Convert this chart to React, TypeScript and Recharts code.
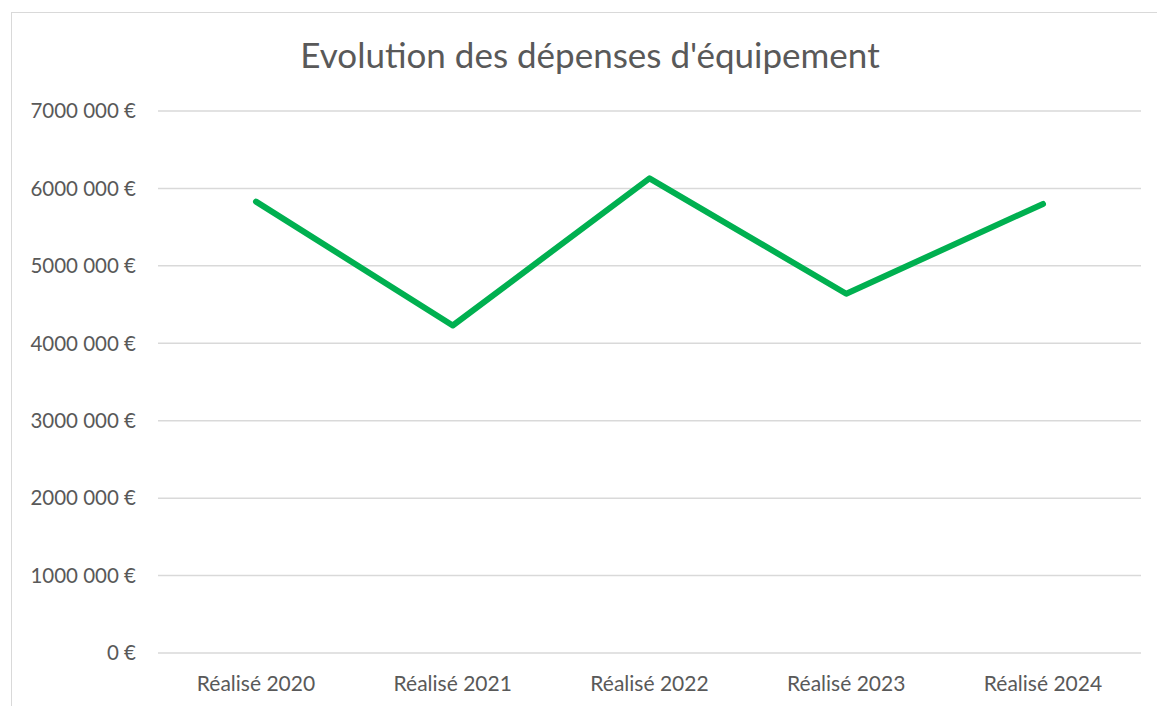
import { LineChart, Line, XAxis, YAxis, CartesianGrid } from 'recharts';

const categories = ['Réalisé 2020', 'Réalisé 2021', 'Réalisé 2022', 'Réalisé 2023', 'Réalisé 2024'];
const depenses = [5830000, 4230000, 6130000, 4640000, 5800000];
const yTicks = [0, 1000000, 2000000, 3000000, 4000000, 5000000, 6000000, 7000000];

const data = categories.map((name, i) => ({ name, value: depenses[i] }));

const fmtEuro = (v: number) => (v === 0 ? '0 €' : `${v / 1000} 000 €`);

const font = 'Lato, "Open Sans", sans-serif';

export default function App() {
  return (
    <div style={{ position: 'absolute', left: 0, top: 0, width: 1157, height: 706, background: '#fff', overflow: 'hidden', fontFamily: font }}>
      <div
        style={{
          position: 'absolute',
          left: 11,
          top: 12,
          width: 1200,
          height: 720,
          borderLeft: '1.5px solid #d9d9d9',
          borderTop: '1.5px solid #d9d9d9',
        }}
      />
      <div
        style={{
          position: 'absolute',
          left: 590,
          top: 32,
          transform: 'translateX(-50%)',
          whiteSpace: 'nowrap',
          fontSize: 35,
          color: '#595959',
          lineHeight: '44px',
        }}
      >
        Evolution des dépenses d'équipement
      </div>
      <div style={{ position: 'absolute', left: 0, top: 0 }}>
        <LineChart width={1157} height={706} data={data} margin={{ top: 111, right: 16, bottom: 0, left: 0 }}>
          <CartesianGrid vertical={false} stroke="#d9d9d9" strokeWidth={1.5} />
          <XAxis
            dataKey="name"
            axisLine={false}
            tickLine={false}
            tickSize={0}
            tickMargin={23}
            height={53}
            interval={0}
            padding={{ left: 98, right: 98 }}
            tick={{ fill: '#595959', fontSize: 21, fontFamily: font }}
          />
          <YAxis
            domain={[0, 7000000]}
            ticks={yTicks}
            width={158}
            axisLine={false}
            tickLine={false}
            tickSize={0}
            tickMargin={22}
            tickFormatter={fmtEuro}
            tick={{ fill: '#595959', fontSize: 20.5, fontFamily: font }}
          />
          <Line
            type="linear"
            dataKey="value"
            stroke="#00b050"
            strokeWidth={6}
            strokeLinecap="round"
            strokeLinejoin="round"
            dot={false}
            activeDot={false}
            isAnimationActive={false}
          />
        </LineChart>
      </div>
    </div>
  );
}
